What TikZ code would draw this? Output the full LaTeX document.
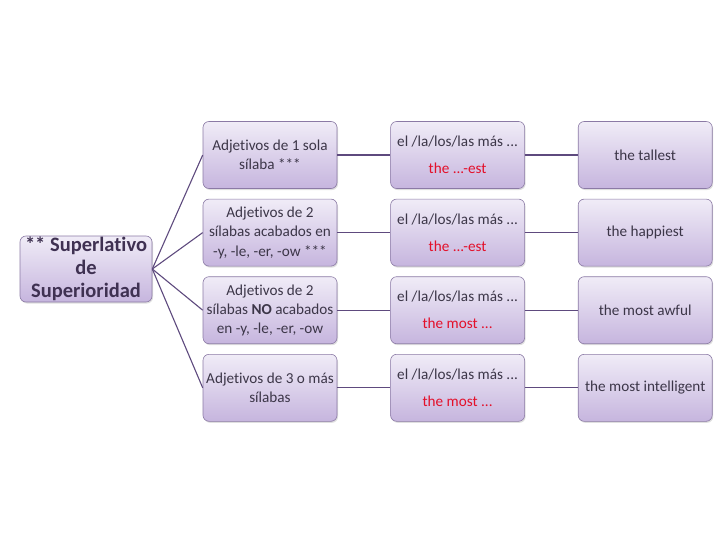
\documentclass[tikz,border=0pt]{standalone}
\usepackage{fontspec}
\setmainfont{Carlito}[Ligatures=NoCommon]
\usepackage{xcolor}
\usetikzlibrary{positioning, shadows}
\definecolor{boxtop}{HTML}{F0ECF7}
\definecolor{boxbot}{HTML}{C6B5DE}
\definecolor{boxdraw}{HTML}{8B7AA5}
\definecolor{linkdraw}{HTML}{5E4A7E}
\definecolor{txtgrey}{HTML}{3C3648}
\definecolor{roottxt}{HTML}{3F3152}
\definecolor{redtxt}{HTML}{E3102A}
\tikzset{
  blk/.style={rectangle, rounded corners=6pt, draw=boxdraw, line width=0.6pt, top color=boxtop, bottom color=boxbot, align=center, text=txtgrey, font=\fontsize{15.2}{19}\selectfont, inner sep=1pt, minimum width=134pt, minimum height=67pt, drop shadow={opacity=0.25, shadow xshift=1pt, shadow yshift=-1.5pt}},
  rootblk/.style={blk, minimum width=132pt, minimum height=66pt, text=roottxt, font=\bfseries\fontsize{20.5}{23}\selectfont},
  link/.style={draw=linkdraw, line width=1.1pt},
}
\newcommand{\redline}[1]{\textcolor{redtxt}{#1}}

\begin{document}
\begin{tikzpicture}[x=1pt, y=-1pt, node distance=10pt and 53pt]
  \useasboundingbox (0,0) rectangle (728,546);
  \node[rootblk] (root) at (86,269) {** Superlativo\\de\\Superioridad};
  \node[blk] (adj1) at (270,155) {Adjetivos de 1 sola\\sílaba ***};
  \node[blk, below=of adj1] (adj2) {Adjetivos de 2\\sílabas acabados en\\[1pt]-y, -le, -er, -ow ***};
  \node[blk, below=of adj2] (adj3) {Adjetivos de 2\\sílabas \textbf{NO} acabados\\en -y, -le, -er, -ow};
  \node[blk, below=of adj3] (adj4) {Adjetivos de 3 o más\\sílabas};
  \node[blk, right=of adj1] (form1) {el /la/los/las más ...\\[8pt]\redline{the ...-est}};
  \node[blk, right=of adj2] (form2) {el /la/los/las más ...\\[8pt]\redline{the ...-est}};
  \node[blk, right=of adj3] (form3) {el /la/los/las más ...\\[8pt]\redline{the most ...}};
  \node[blk, right=of adj4] (form4) {el /la/los/las más ...\\[8pt]\redline{the most ...}};
  \node[blk, right=of form1] (ex1) {the tallest};
  \node[blk, right=of form2] (ex2) {the happiest};
  \node[blk, right=of form3] (ex3) {the most awful};
  \node[blk, right=of form4] (ex4) {the most intelligent};
  \foreach \i in {1,...,4} {
    \draw[link] (root.east) -- (adj\i.west);
    \draw[link] (adj\i) -- (form\i);
    \draw[link] (form\i) -- (ex\i);
  }
\end{tikzpicture}
\end{document}
